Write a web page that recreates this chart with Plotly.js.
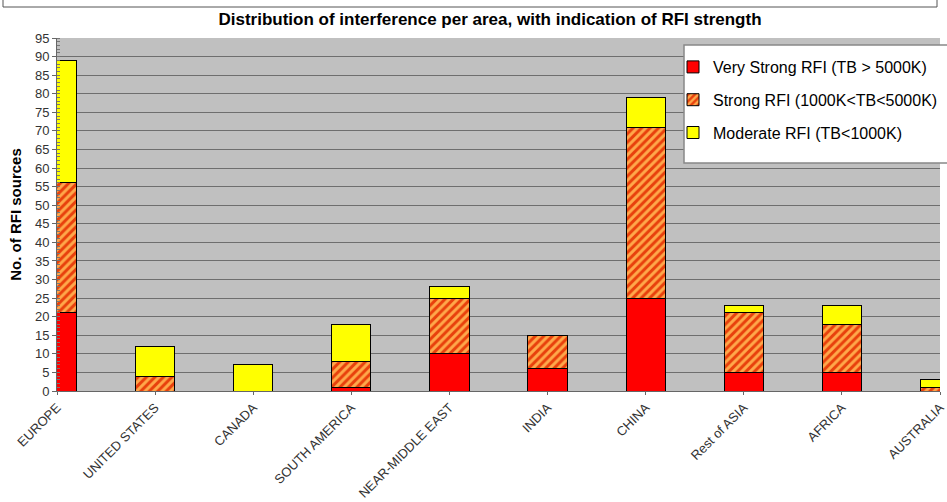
<!DOCTYPE html>
<html>
<head>
<meta charset="utf-8">
<script src="https://cdn.plot.ly/plotly-3.0.1.min.js"></script>
<style>html,body{margin:0;padding:0;background:#fff;}#chart{width:947px;height:502px;}</style>
</head>
<body>
<div id="chart"></div>
<script>
const categories = ["EUROPE", "UNITED STATES", "CANADA", "SOUTH AMERICA", "NEAR-MIDDLE EAST", "INDIA", "CHINA", "Rest of ASIA", "AFRICA", "AUSTRALIA"];
const veryStrong = [21, 0, 0, 1, 10, 6, 25, 5, 5, 0];
const strong = [35, 4, 0, 7, 15, 9, 46, 16, 13, 1];
const moderate = [33, 8, 7, 10, 3, 0, 8, 2, 5, 2];
const seriesNames = ["Very Strong RFI (TB > 5000K)", "Strong RFI (1000K<TB<5000K)", "Moderate RFI (TB<1000K)"];
const yTicks = [0,5,10,15,20,25,30,35,40,45,50,55,60,65,70,75,80,85,90,95];

const W = 947, H = 502;
const M = {l: 57, r: 7, t: 38, b: 111, autoexpand: false};
const PW = W - M.l - M.r, PH = H - M.t - M.b;
const px = v => (v - M.l) / PW;          // pixel x -> paper x
const py = v => (H - M.b - v) / PH;      // pixel y -> paper y

const line = {color: "#000000", width: 1};
const traces = [
  {type: "bar", name: seriesNames[0], x: categories, y: veryStrong, legendgroup: "a",
   marker: {color: "#ff0000", line: line}},
  {type: "bar", name: seriesNames[1], x: categories, y: strong, legendgroup: "b",
   marker: {color: "#e8400c", line: line,
            pattern: {shape: "/", bgcolor: "#e8400c", fgcolor: "#ffa84a", fgopacity: 1, size: 6, solidity: 0.5, fillmode: "replace"}}},
  {type: "bar", name: seriesNames[2], x: categories, y: moderate, legendgroup: "c",
   marker: {color: "#ffff00", line: line}}
];

const layout = {
  width: W, height: H,
  margin: M,
  paper_bgcolor: "#ffffff",
  plot_bgcolor: "#c0c0c0",
  barmode: "stack",
  bargap: 0.6,
  font: {family: "Liberation Sans, Arial, sans-serif", color: "#333333"},
  title: {text: "<b>Distribution of interference per area, with indication of RFI strength</b>",
          xref: "paper", x: px(490), xanchor: "center", y: 1 - 19 / H, yanchor: "middle",
          font: {size: 17, color: "#000000", family: "Liberation Sans, Arial, sans-serif"}},
  xaxis: {type: "category", range: [0, 9], tickangle: -45, ticks: "outside", ticklen: 3,
          tickcolor: "#666666", showline: true, linecolor: "#666666", linewidth: 1,
          showgrid: false, tickfont: {size: 13, color: "#333333"}, fixedrange: true},
  yaxis: {range: [0, 95], tickmode: "array", tickvals: yTicks, ticktext: yTicks.map(String),
          ticks: "outside", ticklen: 4, tickcolor: "#666666",
          showline: true, linecolor: "#666666", linewidth: 1,
          gridcolor: "#6e6e6e", gridwidth: 1, zeroline: false,
          minor: {ticks: "inside", dtick: 1, ticklen: 3, tickcolor: "#777777", showgrid: false},
          tickfont: {size: 13, color: "#333333"},
          title: {text: "<b>No. of RFI sources</b>", font: {size: 15, color: "#000000"}, standoff: 9}},
  showlegend: true,
  legend: {x: px(673), y: py(50), xanchor: "left", yanchor: "top",
           bgcolor: "rgba(0,0,0,0)", borderwidth: 0,
           traceorder: "grouped", tracegroupgap: 9, itemwidth: 30,
           font: {size: 16, color: "#000000"}},
  shapes: [
    {type: "rect", xref: "paper", yref: "paper", x0: px(3), x1: px(937), y0: py(7), y1: py(-20),
     line: {color: "#555555", width: 1}, fillcolor: "rgba(0,0,0,0)"},
    {type: "rect", xref: "paper", yref: "paper", layer: "above", x0: px(684), x1: px(960), y0: py(163), y1: py(45),
     line: {color: "#888888", width: 1.5}, fillcolor: "#ffffff"}
  ]
};

Plotly.newPlot("chart", traces, layout, {displayModeBar: false, staticPlot: true});
</script>
</body>
</html>
